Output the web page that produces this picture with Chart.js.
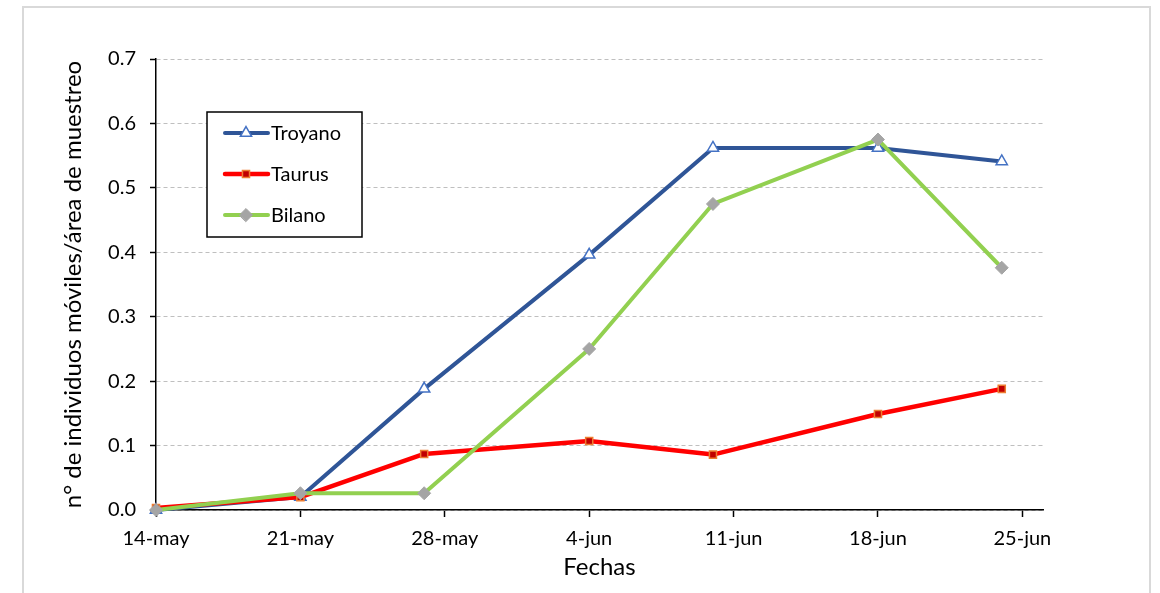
<!DOCTYPE html>
<html>
<head>
<meta charset="utf-8">
<script src="https://cdn.jsdelivr.net/npm/chart.js@4.4.1/dist/chart.umd.min.js"></script>
<style>
  html, body { margin: 0; padding: 0; background: #ffffff; }
  #wrap { position: relative; width: 1160px; height: 593px; }
</style>
</head>
<body>
<div id="wrap"><canvas id="chart" width="1160" height="593"></canvas></div>
<script>
// days since 14-may for each sampling date
const days = [0, 7, 13, 21, 27, 35, 41];
const tickLabels = ['14-may', '21-may', '28-may', '4-jun', '11-jun', '18-jun', '25-jun'];

const troyano = [0.0, 0.02, 0.188, 0.396, 0.562, 0.562, 0.541];
const taurus = [0.003, 0.02, 0.087, 0.107, 0.086, 0.149, 0.188];
const bilano = [0.0, 0.026, 0.026, 0.25, 0.475, 0.575, 0.376];

const FONT = 'Lato, "Open Sans", sans-serif';

function toPoints(values) {
    return values.map((v, i) => ({ x: days[i], y: v }));
}

// light frame around the whole picture
const framePlugin = {
    id: 'frame',
    beforeDraw(chart) {
        const ctx = chart.ctx;
        ctx.save();
        ctx.strokeStyle = '#d9d9d9';
        ctx.lineWidth = 2;
        ctx.beginPath();
        ctx.moveTo(23, 600);
        ctx.lineTo(23, 7);
        ctx.lineTo(1150, 7);
        ctx.lineTo(1150, 600);
        ctx.stroke();
        ctx.restore();
    }
};

// boxed legend with line + marker samples
const boxLegend = {
    id: 'boxLegend',
    afterDraw(chart) {
        const ctx = chart.ctx;
        const x0 = 207, y0 = 112, w = 155, h = 125;
        ctx.save();
        ctx.fillStyle = '#ffffff';
        ctx.fillRect(x0, y0, w, h);
        ctx.strokeStyle = '#000000';
        ctx.lineWidth = 1.5;
        ctx.strokeRect(x0, y0, w, h);
        const rows = [133, 174, 215];
        chart.data.datasets.forEach((ds, i) => {
            const y = rows[i];
            ctx.strokeStyle = ds.borderColor;
            ctx.lineWidth = ds.borderWidth;
            ctx.lineCap = 'round';
            ctx.beginPath();
            ctx.moveTo(225, y);
            ctx.lineTo(268, y);
            ctx.stroke();
            ctx.fillStyle = ds.pointBackgroundColor;
            ctx.strokeStyle = ds.pointBorderColor;
            ctx.lineWidth = ds.pointBorderWidth;
            Chart.helpers.drawPoint(ctx, {
                pointStyle: ds.pointStyle,
                radius: ds.pointRadius,
                borderWidth: ds.pointBorderWidth,
                rotation: 0
            }, 246, y);
            ctx.fillStyle = '#000000';
            ctx.font = '20px ' + FONT;
            ctx.textBaseline = 'middle';
            ctx.textAlign = 'left';
            ctx.fillText(ds.label, 271, y + 1);
        });
        ctx.restore();
    }
};

new Chart(document.getElementById('chart').getContext('2d'), {
    type: 'line',
    data: {
        datasets: [{
            label: 'Troyano',
            data: toPoints(troyano),
            borderColor: '#2f5597',
            borderWidth: 4,
            pointStyle: 'triangle',
            pointRadius: 6.5,
            pointBackgroundColor: '#ffffff',
            pointBorderColor: '#4472c4',
            pointBorderWidth: 1.5,
            order: 3
        }, {
            label: 'Taurus',
            data: toPoints(taurus),
            borderColor: '#ff0000',
            borderWidth: 4.5,
            pointStyle: 'rect',
            pointRadius: 5,
            pointBackgroundColor: '#c00000',
            pointBorderColor: '#ed7d31',
            pointBorderWidth: 1.5,
            order: 2
        }, {
            label: 'Bilano',
            data: toPoints(bilano),
            borderColor: '#92d050',
            borderWidth: 4,
            pointStyle: 'rectRot',
            pointRadius: 6.5,
            pointBackgroundColor: '#a5a5a5',
            pointBorderColor: '#a5a5a5',
            pointBorderWidth: 1,
            order: 1
        }].map(ds => Object.assign(ds, {
            tension: 0,
            clip: false,
            borderJoinStyle: 'round',
            borderCapStyle: 'round',
            pointHoverRadius: ds.pointRadius
        }))
    },
    options: {
        responsive: false,
        animation: false,
        layout: { padding: { left: 53, top: 59, right: 117, bottom: 10 } },
        plugins: {
            legend: { display: false },
            tooltip: { enabled: false }
        },
        scales: {
            x: {
                type: 'linear',
                min: 0,
                max: 43,
                afterFit(scale) { scale.height = 73; },
                ticks: {
                    stepSize: 7,
                    includeBounds: false,
                    maxRotation: 0,
                    autoSkip: false,
                    color: '#000000',
                    padding: 10,
                    font: { family: FONT, size: 20 },
                    callback: (v) => tickLabels[v / 7]
                },
                grid: {
                    drawOnChartArea: false,
                    drawTicks: true,
                    tickLength: 7,
                    tickColor: '#000000',
                    tickWidth: 1.5
                },
                border: { color: '#000000', width: 1.5 },
                title: {
                    display: true,
                    text: 'Fechas',
                    color: '#000000',
                    font: { family: FONT, size: 24 },
                    padding: { top: 0, bottom: 1 }
                }
            },
            y: {
                min: 0,
                max: 0.7,
                afterFit(scale) { scale.width = 103; },
                ticks: {
                    stepSize: 0.1,
                    color: '#000000',
                    padding: 14,
                    font: { family: FONT, size: 20 },
                    callback: (v) => v.toFixed(1)
                },
                grid: {
                    color: '#bfbfbf',
                    lineWidth: 1,
                    drawTicks: true,
                    tickLength: 6,
                    tickColor: '#000000',
                    tickWidth: 1.5,
                    tickBorderDash: []
                },
                border: { color: '#000000', width: 1.5, dash: [4, 3] },
                title: {
                    display: true,
                    text: 'n° de individuos móviles/área de muestreo',
                    color: '#000000',
                    font: { family: FONT, size: 24 },
                    padding: { top: 6, bottom: 0 }
                }
            }
        }
    },
    plugins: [framePlugin, boxLegend]
});
</script>
</body>
</html>
